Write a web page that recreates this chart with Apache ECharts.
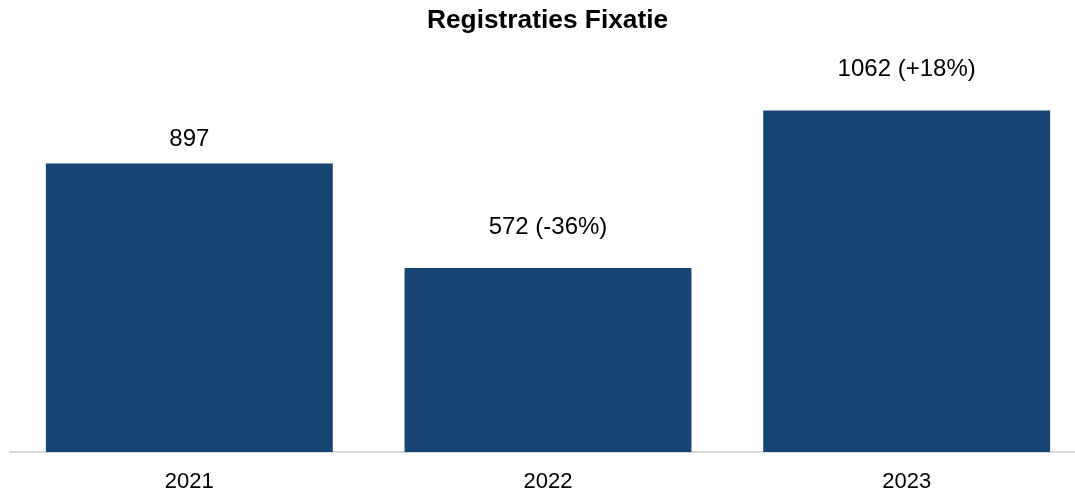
<!DOCTYPE html>
<html>
<head>
<meta charset="utf-8">
<script src="https://cdn.jsdelivr.net/npm/echarts@6/dist/echarts.min.js"></script>
<style>
  html, body { margin: 0; padding: 0; background: #fff; }
  #chart { width: 1075px; height: 493px; }
</style>
</head>
<body>
<div id="chart"></div>
<script>
// Yearly registrations with change versus 2021
const years = ['2021', '2022', '2023'];
const registrations = [897, 572, 1062];
const changeLabels = ['', ' (-36%)', ' (+18%)'];

const FONT = '"Liberation Sans", Arial, sans-serif';

// labels carrying a change figure sit a little higher above their bar
const barData = registrations.map((v, i) => ({
  value: v,
  label: { distance: changeLabels[i] ? 29 : 12 }
}));

const chart = echarts.init(document.getElementById('chart'), null, { renderer: 'canvas' });
chart.setOption({
  animation: false,
  backgroundColor: '#ffffff',
  // title centred over the plot area, which extends past the right edge
  title: {
    text: 'Registraties Fixatie',
    left: 422,
    top: 3,
    textStyle: { fontFamily: FONT, fontSize: 26.3, fontWeight: 'bold', color: '#000' }
  },
  grid: { left: 10, right: -11, top: 66, bottom: 41, outerBoundsMode: 'none', containLabel: false },
  xAxis: {
    type: 'category',
    data: years,
    axisLine: { show: true, lineStyle: { color: '#d9d9d9', width: 2 } },
    axisTick: { show: false },
    axisLabel: { fontFamily: FONT, fontSize: 22, color: '#000', margin: 19 }
  },
  yAxis: {
    type: 'value',
    min: 0,
    max: 1200,
    show: false,
    splitLine: { show: false }
  },
  series: [{
    type: 'bar',
    data: barData,
    barCategoryGap: '20%',
    itemStyle: { color: '#174573' },
    label: {
      show: true,
      position: 'top',
      fontFamily: FONT,
      fontSize: 24,
      color: '#000',
      formatter: p => p.value + changeLabels[p.dataIndex]
    }
  }]
});
</script>
</body>
</html>
